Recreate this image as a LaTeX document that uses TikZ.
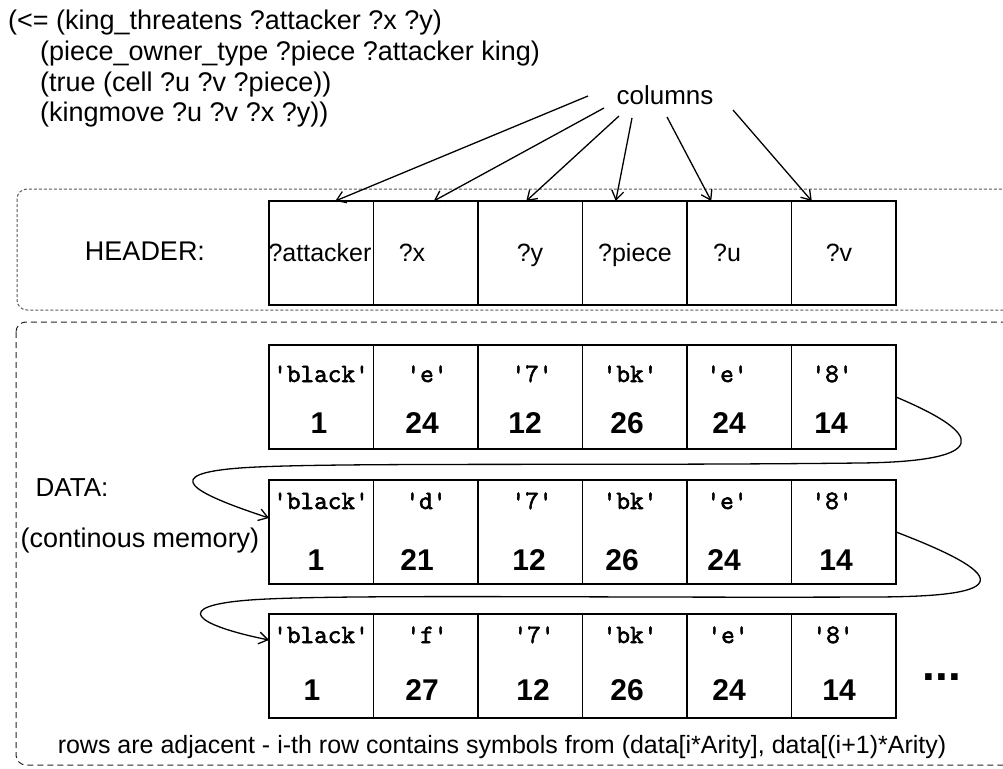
\documentclass[tikz,border=0pt]{standalone}
\usepackage{fontspec}
\setmainfont{Liberation Sans}
\newfontfamily\cellmono{Latin Modern Mono}[FakeBold=2.2]
\usetikzlibrary{arrows.meta,calc}

\tikzset{
  x=1pt, y=-1pt,
  lbl/.style={inner sep=0pt, anchor=base, font=\fontsize{27}{31}\selectfont},
  hdr/.style={inner sep=0pt, anchor=base, font=\fontsize{25}{30}\selectfont},
  cell/.style={draw, line width=1.4pt, anchor=north west, minimum width=104.5pt,
               minimum height=104pt, inner sep=0pt, outer sep=0pt},
  sym/.style={inner sep=0pt, anchor=base, font=\cellmono\fontsize{26.5}{26.5}\selectfont},
  num/.style={inner sep=0pt, anchor=base, font=\bfseries\fontsize{30}{30}\selectfont},
  tip/.style={-{Straight Barb[length=9pt,width=12pt,line width=1.3pt]}},
  colarrow/.style={draw, line width=1.3pt, tip},
  wrap/.style={draw, line width=1.3pt, tip},
  hdrbox/.style={draw=black!65, line width=1pt, dash pattern=on 3pt off 2pt, rounded corners=10pt},
  databox/.style={draw=black!85, line width=1pt, dash pattern=on 6pt off 4pt, rounded corners=10pt},
}

\begin{document}
\begin{tikzpicture}
\useasboundingbox (0,0) rectangle (1003,768);
\clip (0,0) rectangle (1003,768);

% the rule being illustrated
\node[inner sep=0pt, anchor=north west, align=left,
      font=\fontsize{27}{30.7}\selectfont] (rule) at (8,10)
  {(<= (king\_threatens ?attacker ?x ?y)\\
   \hspace*{32pt}(piece\_owner\_type ?piece ?attacker king)\\
   \hspace*{32pt}(true (cell ?u ?v ?piece))\\
   \hspace*{32pt}(kingmove ?u ?v ?x ?y))};

% group frames
\draw[hdrbox] (17,189) rectangle (1015,310);
\draw[databox] (16,322) rectangle (1015,765);

\node[lbl] (hdrlabel) at (145,260) {HEADER:};
\node[lbl, font=\fontsize{26}{30}\selectfont] (datalabel) at (72,496) {DATA:};
\node[lbl] (memlabel) at (140,547) {(continous memory)};

% header cells
\foreach \i in {1,...,6}
  \node[cell] (h\i) at ({269+104.5*(\i-1)},201) {};
\node[hdr] (ht1) at (320,261) {?attacker};
\node[hdr] (ht2) at (412,261) {?x};
\node[hdr] (ht3) at (530,261) {?y};
\node[hdr] (ht4) at (635,261) {?piece};
\node[hdr] (ht5) at (727,261) {?u};
\node[hdr] (ht6) at (839,261) {?v};

% data rows
\foreach \r/\top in {1/345, 2/480, 3/614}
  \foreach \i in {1,...,6}
    \node[cell] (r\r c\i) at ({269+104.5*(\i-1)},\top) {};

% row 1
\node[sym] (s11) at (321,382) {'black'};
\node[sym] (s12) at (427,382) {'e'};
\node[sym] (s13) at (532,382) {'7'};
\node[sym] (s14) at (630,382) {'bk'};
\node[sym] (s15) at (727,382) {'e'};
\node[sym] (s16) at (832,382) {'8'};
\node[num] (n11) at (319,433) {1};
\node[num] (n12) at (422,433) {24};
\node[num] (n13) at (525,433) {12};
\node[num] (n14) at (627,433) {26};
\node[num] (n15) at (729,433) {24};
\node[num] (n16) at (831,433) {14};

% row 2
\node[sym] (s21) at (321,509) {'black'};
\node[sym] (s22) at (426,509) {'d'};
\node[sym] (s23) at (532,509) {'7'};
\node[sym] (s24) at (630,509) {'bk'};
\node[sym] (s25) at (727,509) {'e'};
\node[sym] (s26) at (832,509) {'8'};
\node[num] (n21) at (316,570) {1};
\node[num] (n22) at (417,570) {21};
\node[num] (n23) at (529,570) {12};
\node[num] (n24) at (622,570) {26};
\node[num] (n25) at (724,570) {24};
\node[num] (n26) at (836,570) {14};

% row 3
\node[sym] (s31) at (321,643) {'black'};
\node[sym] (s32) at (427,643) {'f'};
\node[sym] (s33) at (534,643) {'7'};
\node[sym] (s34) at (630,643) {'bk'};
\node[sym] (s35) at (728,643) {'e'};
\node[sym] (s36) at (833,643) {'8'};
\node[num] (n31) at (312,700) {1};
\node[num] (n32) at (422,700) {27};
\node[num] (n33) at (533,700) {12};
\node[num] (n34) at (627,700) {26};
\node[num] (n35) at (729,700) {24};
\node[num] (n36) at (839,700) {14};

\node[inner sep=0pt, anchor=base, font=\bfseries\fontsize{46}{46}\selectfont] (more) at (942,680) {...};

\node[inner sep=0pt, anchor=base, font=\fontsize{25}{30}\selectfont] (note) at (502,753)
  {rows are adjacent - i-th row contains symbols from (data[i*Arity], data[(i+1)*Arity)};

% "columns" pointers
\node[lbl, font=\fontsize{26}{30}\selectfont] (columns) at (665,104) {columns};
\coordinate (c1) at (588,96);
\coordinate (c2) at (604,108);
\coordinate (c3) at (619,116);
\coordinate (c4) at (632,118);
\coordinate (c5) at (667,117);
\coordinate (c6) at (733,110);
\draw[colarrow] (c1) -- ($(h1.north)+(14,0)$);
\draw[colarrow] (c2) -- ($(h2.north)+(8,0)$);
\draw[colarrow] (c3) -- ($(h3.north)+(-4,0)$);
\draw[colarrow] (c4) -- ($(h4.north)+(-19,0)$);
\draw[colarrow] (c5) -- ($(h5.north)+(-28,0)$);
\draw[colarrow] (c6) -- ($(h6.north)+(-32,0)$);

% wrap-around links from the end of one row to the start of the next
\draw[wrap] (r1c6.east) .. controls (1010,445) and (960,462) .. (860,463)
  .. controls (600,466) and (320,462) .. (240,468)
  .. controls (160,474) and (190,492) .. ($(r2c1.west)+(0,-14)$);
\draw[wrap] (r2c6.east) .. controls (1035,585) and (985,597) .. (870,597)
  .. controls (600,598) and (330,594) .. (250,600)
  .. controls (170,606) and (195,625) .. ($(r3c1.west)+(0,-26)$);
\end{tikzpicture}
\end{document}
